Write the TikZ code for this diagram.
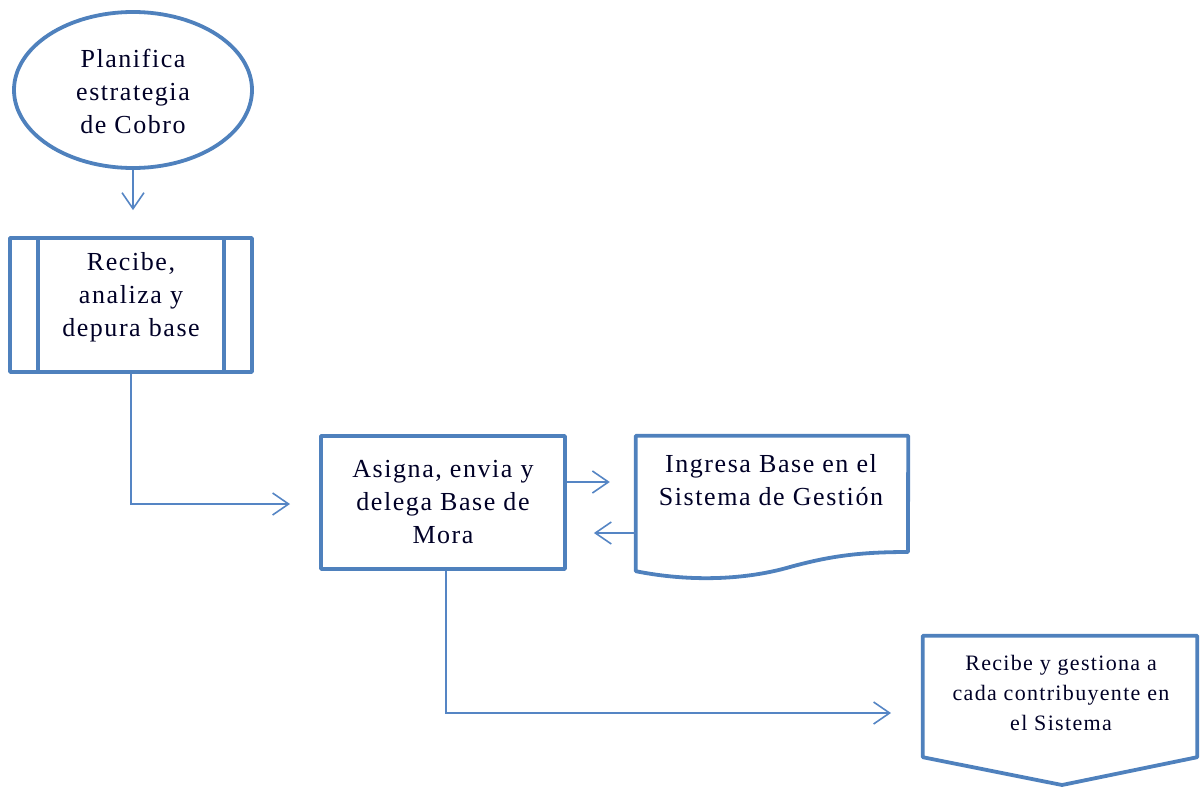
\documentclass[tikz,border=0pt]{standalone}
\usepackage{fontspec}
\setmainfont{Liberation Serif}[LetterSpace=6]
\usetikzlibrary{arrows.meta,calc,shapes.geometric}
\definecolor{boxblue}{HTML}{4F81BD}
\definecolor{lineblue}{HTML}{5585C4}
\tikzset{
  shapeline/.style={draw=boxblue, line width=3.8pt, line join=round},
  conn/.style={draw=lineblue, line width=1.6pt, -{Straight Barb[length=16pt,width=22pt,line width=1.6pt]}},
  lbl/.style={text=black!85!blue, align=center, font=\fontsize{26}{33}\selectfont},
  lbls/.style={text=black!85!blue, align=center, font=\fontsize{22}{30}\selectfont},
}
\begin{document}
\begin{tikzpicture}[x=1pt,y=-1pt]
\useasboundingbox (0,0) rectangle (1204,787);
% start ellipse
\node[ellipse, shapeline, minimum width=238pt, minimum height=156pt, inner sep=0pt] (plan) at (133,90) {};
\node[lbl] (plant) at (133,91) {Planifica\\estrategia\\de Cobro};
% predefined process
\node[rectangle, shapeline, minimum width=242pt, minimum height=134pt, inner sep=0pt] (rec) at (131,305) {};
\draw[shapeline] ($(rec.north west)+(30,0)$) coordinate (rl1) -- ($(rec.south west)+(30,0)$);
\draw[shapeline] ($(rec.north east)+(-30,0)$) -- ($(rec.south east)+(-30,0)$);
\node[lbl] (rect) at (131,297) {Recibe,\\analiza y\\depura base};
% process
\node[rectangle, shapeline, minimum width=244pt, minimum height=133pt, inner sep=0pt, lbl] (asig) at (443,502.5) {Asigna, envia y\\delega Base de\\Mora};
% document
\node[rectangle, draw=none, minimum width=272pt, minimum height=135pt, inner sep=0pt] (doc) at (772,503.5) {};
\draw[shapeline] (doc.south west) -- (doc.north west) -- (doc.north east) -- (908,552)
  .. controls (860,552) and (830,556) .. (790,567)
  .. controls (745,580) and (690,582) .. (doc.south west) -- cycle;
\node[lbl] (doct) at (771,480) {Ingresa Base en el\\Sistema de Gestión};
% off-page connector
\node[rectangle, draw=none, minimum width=274pt, minimum height=121pt, inner sep=0pt] (off) at (1060,696.5) {};
\draw[shapeline] (off.north west) -- (off.north east) -- (off.south east) -- (1062,785) -- (off.south west) -- cycle;
\node[lbls] (offt) at (1061,693) {Recibe y gestiona a\\cada contribuyente en\\el Sistema};
% connectors
\draw[conn, shorten >=26pt] (plan.south) -- (rec.north -| plan.south);
\coordinate (a1) at (290,504);
\draw[conn] (rec.south) |- (a1);
\draw[conn, shorten >=26pt] (asig.east |- 0,482) -- (doc.west |- 0,482);
\draw[conn, shorten >=27pt] (doc.west |- 0,533) -- (asig.east |- 0,533);
\coordinate (a2) at (891,713);
\draw[conn] (asig.south -| 446,0) |- (a2);
\end{tikzpicture}
\end{document}
